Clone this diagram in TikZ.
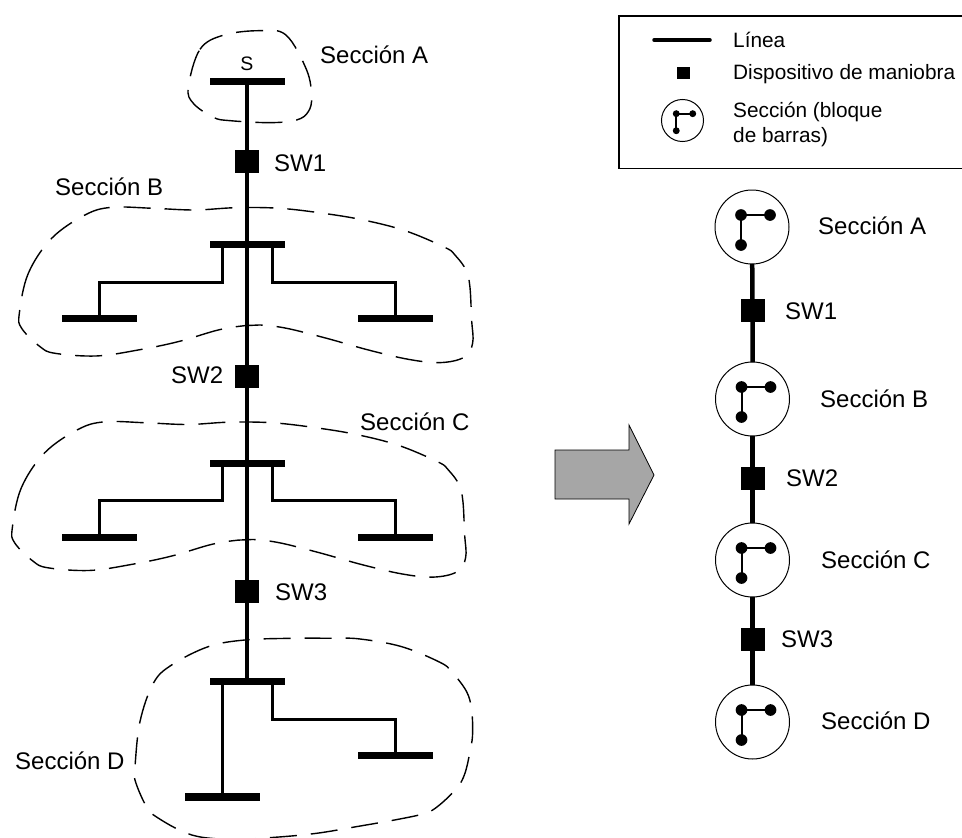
\documentclass[tikz,border=0pt]{standalone}
\usepackage{fontspec}
\setmainfont{Liberation Sans}
\usetikzlibrary{calc}
\tikzset{
  bar/.style={draw=none,fill=black,minimum width=75pt,minimum height=7.5pt,inner sep=0pt,outer sep=0pt},
  switchbox/.style={draw=none,fill=black,minimum width=24pt,minimum height=23pt,inner sep=0pt,outer sep=0pt},
  feeder/.style={line width=4.5pt},
  branch/.style={line width=3pt},
  zone/.style={line width=1.4pt,dash pattern=on 27pt off 14pt},
  lab/.style={anchor=base west,inner sep=0pt,font=\fontsize{24}{28}\selectfont},
  leglab/.style={anchor=base west,inner sep=0pt,font=\fontsize{20.8}{24}\selectfont},
  ring/.style={circle,draw,line width=1pt,inner sep=0pt,outer sep=0pt},
  dot/.style={circle,fill=black,inner sep=0pt,outer sep=0pt},
}
\newcommand{\secblock}[4]{%
  \node[ring,minimum size={74pt*#4}] (#1) at (#2,#3) {};
  \node[dot,minimum size={11pt*#4+0.7pt}] (#1a) at ([shift={({-11*#4},{-12*#4})}]#1) {};
  \node[dot,minimum size={11pt*#4+0.7pt}] (#1b) at ([shift={({18*#4},{-12*#4})}]#1) {};
  \node[dot,minimum size={11pt*#4+0.7pt}] (#1c) at ([shift={({-11*#4},{18*#4})}]#1) {};
  \draw[line width=2pt] (#1b.center) -- (#1a.center) -- (#1c.center);
}
\newcommand{\zoneB}{(58,940) (85,820) (155,715) (255,645) (335,622) (460,625) (585,630) (710,623) (840,625) (970,640) (1090,660) (1215,692) (1330,740) (1365,765) (1405,830) (1415,960) (1418,1030) (1392,1072) (1320,1088) (1225,1078) (1105,1050) (980,1015) (860,985) (780,975) (735,977) (655,990) (535,1025) (415,1050) (290,1068) (165,1060) (120,1040) (65,985)}
\begin{document}
\begin{tikzpicture}[x=1pt,y=-1pt]
\useasboundingbox (0,0) rectangle (962,838);
% dashed zones
\draw[zone,x=0.3333pt,y=-0.3333pt] plot[smooth cycle,tension=0.6] coordinates {(565,262) (600,148) (672,105) (780,92) (858,105) (920,210) (935,290) (925,335) (890,360) (810,368) (690,362) (640,352) (580,310)};
\draw[zone,x=0.3333pt,y=-0.3333pt] plot[smooth cycle,tension=0.6] coordinates {\zoneB};
\begin{scope}[shift={(-7,214.5)}]
\draw[zone,x=0.3333pt,y=-0.3333pt] plot[smooth cycle,tension=0.6] coordinates {\zoneB};
\end{scope}
\begin{scope}[shift={(0,400)}]
\draw[zone,x=0.3333pt,y=-0.3333pt] plot[smooth cycle,tension=0.6] coordinates {(405,1100) (420,965) (460,850) (515,795) (625,740) (735,720) (875,715) (1000,715) (1080,717) (1205,740) (1320,787) (1355,815) (1400,875) (1415,930) (1418,1000) (1412,1045) (1395,1120) (1370,1165) (1315,1218) (1275,1240) (1195,1258) (1070,1280) (950,1300) (825,1312) (700,1318) (575,1305) (465,1248) (435,1212) (405,1140)};
\end{scope}
% left one-line diagram
\node[bar] (busA) at (247,81.5) {};
\node[switchbox] (swL1) at (247,161.5) {};
\node[bar] (busB) at (247,244.5) {};
\node[bar] (loadBL) at (99,318.5) {};
\node[bar] (loadBR) at (395,318.5) {};
\node[switchbox] (swL2) at (247,376) {};
\node[bar] (busC) at (247,463.5) {};
\node[bar] (loadCL) at (99,537.5) {};
\node[bar] (loadCR) at (395,537.5) {};
\node[switchbox] (swL3) at (247,591) {};
\node[bar] (busD) at (247,681.5) {};
\node[bar] (loadDL) at (222,797) {};
\node[bar] (loadDR) at (395,755.5) {};
\draw[feeder] (busA.center) -- (swL1) -- (busB.center) -- (swL2) -- (busC.center) -- (swL3) -- (busD.center);
\coordinate (tapBL) at (222,244.5);
\coordinate (tapBR) at (272,244.5);
\coordinate (tapCL) at (222,463.5);
\coordinate (tapCR) at (272,463.5);
\coordinate (tapDL) at (222,681.5);
\coordinate (tapDR) at (272,681.5);
\draw[branch,line join=miter] (tapBL) -- ++(0,37.5) -| (loadBL.center);
\draw[branch,line join=miter] (tapBR) -- ++(0,37.5) -| (loadBR.center);
\draw[branch,line join=miter] (tapCL) -- ++(0,36.5) -| (loadCL.center);
\draw[branch,line join=miter] (tapCR) -- ++(0,36.5) -| (loadCR.center);
\draw[branch] (tapDL) -- (loadDL.center);
\draw[branch,line join=miter] (tapDR) -- ++(0,37.5) -| (loadDR.center);
% left labels
\node[anchor=base,inner sep=0pt,font=\fontsize{19.5}{22}\selectfont] (lS) at (247,70.5) {S};
\node[lab] (lA) at (320,63) {Sección A};
\node[lab] (lsw1) at (274,171) {SW1};
\node[lab] (lB) at (55,195) {Sección B};
\node[lab] (lsw2) at (171,383.5) {SW2};
\node[lab] (lC) at (360,430) {Sección C};
\node[lab] (lsw3) at (275,600) {SW3};
\node[lab] (lD) at (15,769.5) {Sección D};
% big arrow
\draw[fill=black!35,line width=0.8pt,line join=miter] (555,450) -- (629,450) -- (629,425) -- (654,475) -- (629,524) -- (629,499) -- (555,499) -- cycle;
% legend: the frame runs off the right edge of the picture
\coordinate (frameTR) at (962,16);
\coordinate (frameTL) at (619,16);
\coordinate (frameBL) at (619,168.5);
\coordinate (frameBR) at (962,168.5);
\draw[line width=1.8pt,line join=miter] (frameTR) -- (frameTL) -- (frameBL) -- (frameBR);
\coordinate (legL) at (654,40);
\coordinate (legR) at (710,40);
\draw[line width=3.5pt,line cap=round] (legL) -- (legR);
\node[fill=black,minimum width=13.5pt,minimum height=12.5pt,inner sep=0pt] (legS) at (683.5,73) {};
\secblock{legC}{682.5}{120.5}{0.568}
\node[leglab] (t1) at (733,47) {Línea};
\node[leglab] (t2) at (733,79.5) {Dispositivo de maniobra};
\node[leglab] (t3) at (733,117.5) {Sección (bloque};
\node[leglab] (t4) at (733,142.5) {de barras)};
% right block diagram
\secblock{secA}{752}{227}{1}
\secblock{secB}{752.5}{399}{1}
\secblock{secC}{752.5}{560}{1}
\secblock{secD}{752.5}{722}{1}
\node[switchbox] (swR1) at (752.5,310.5) {};
\node[switchbox] (swR2) at (752.5,478.5) {};
\node[switchbox] (swR3) at (752.5,639) {};
\draw[feeder] (secA) -- (swR1) -- (secB);
\draw[feeder] (secB) -- (swR2) -- (secC);
\draw[feeder] (secC) -- (swR3) -- (secD);
\node[lab] (ra) at (818,234.5) {Sección A};
\node[lab] (rb) at (820,407) {Sección B};
\node[lab] (rc) at (821,568) {Sección C};
\node[lab] (rd) at (821,729) {Sección D};
\node[lab] (rs1) at (785,319) {SW1};
\node[lab] (rs2) at (786,486) {SW2};
\node[lab] (rs3) at (781,647) {SW3};
\end{tikzpicture}
\end{document}
